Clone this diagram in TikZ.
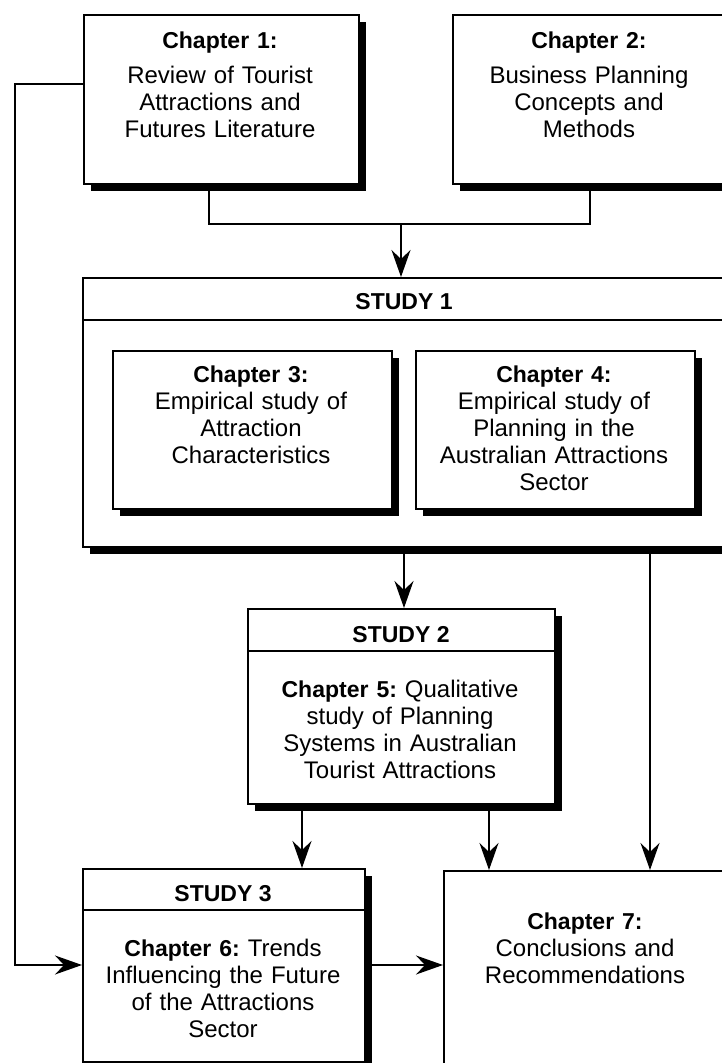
\documentclass[tikz,border=0pt]{standalone}
\usepackage{fontspec}
\setmainfont{Liberation Sans}
\usetikzlibrary{arrows.meta,shadows}
\frenchspacing
% bold chapter label, set a touch smaller than the body text
\newcommand\chaplabel[1]{{\fontsize{23}{27}\selectfont\bfseries #1}}
\begin{document}
\begin{tikzpicture}[x=1pt,y=-1pt,
  box/.style={draw, line width=2pt, fill=white, inner sep=0pt, anchor=north west},
  shadowed/.style={box, drop shadow={shadow xshift=7pt, shadow yshift=-7pt, opacity=1, fill=black}},
  txt/.style={inner sep=0pt, anchor=base, align=center, font=\fontsize{24}{27}\selectfont},
  head/.style={txt, font=\fontsize{23}{27}\selectfont\bfseries},
  link/.style={line width=1.6pt},
  arr/.style={link, -{Stealth[length=27pt, width=19pt, inset=9pt]}}
]
\useasboundingbox (0,0) rectangle (722,1063);

% boxes
\node[shadowed, minimum width=275pt, minimum height=169pt] (ch1) at (83,14) {};
\node[shadowed, minimum width=274pt, minimum height=169pt] (ch2) at (452,14) {};
\node[shadowed, minimum width=644pt, minimum height=269pt] (s1) at (82,277) {};
\draw[link] (82,320) -- (726,320);
\node[shadowed, minimum width=279pt, minimum height=158pt] (ch3) at (112,350) {};
\node[shadowed, minimum width=279pt, minimum height=158pt] (ch4) at (415,350) {};
\node[shadowed, minimum width=307pt, minimum height=195pt] (s2) at (247,608) {};
\draw[link] (247,651) -- (554,651);
\node[shadowed, minimum width=282pt, minimum height=193pt] (s3) at (82,868) {};
\draw[link] (82,910) -- (364,910);
\node[box, minimum width=284pt, minimum height=200pt] (ch7) at (443,870) {};

% texts
\node[txt, text width=270pt] (ch1t) at (220,48) {\chaplabel{Chapter 1:}\\[8pt]Review of Tourist\\Attractions and\\Futures Literature};
\node[txt, text width=270pt] (ch2t) at (589,48) {\chaplabel{Chapter 2:}\\[8pt]Business Planning\\Concepts and\\Methods};
\node[head] (s1t) at (404,309) {STUDY 1};
\node[txt, text width=270pt] (ch3t) at (251,382) {\chaplabel{Chapter 3:}\\Empirical study of\\Attraction\\Characteristics};
\node[txt, text width=270pt] (ch4t) at (554,382) {\chaplabel{Chapter 4:}\\Empirical study of\\Planning in the\\Australian Attractions\\Sector};
\node[head] (s2t) at (401,642) {STUDY 2};
\node[txt, text width=300pt] (ch5t) at (400,697) {\chaplabel{Chapter 5:} Qualitative\\study of Planning\\Systems in Australian\\Tourist Attractions};
\node[head] (s3t) at (223,901) {STUDY 3};
\node[txt, text width=275pt] (ch6t) at (223,956) {\chaplabel{Chapter 6:} Trends\\Influencing the Future\\of the Attractions\\Sector};
\node[txt, text width=275pt] (ch7t) at (585,929) {\chaplabel{Chapter 7:}\\Conclusions and\\Recommendations};

% connectors
\coordinate (m1) at (209,224);
\coordinate (m2) at (590,224);
\coordinate (m0) at (401,224);
\draw[link] (ch1.south -| m1) -- (m1) -- (m2) -- (ch2.south -| m2);
\draw[arr] (m0) -- (s1.north -| m0);

\coordinate (l1) at (15,84);
\coordinate (l2) at (15,965);
\draw[arr] (ch1.west |- l1) -- (l1) -- (l2) -- (s3.west |- l2);

\coordinate (a1) at (404,0);
\coordinate (a2) at (650,0);
\coordinate (a3) at (302,0);
\coordinate (a4) at (489,0);
\draw[arr] (s1.south -| a1) -- (s2.north -| a1);
\draw[arr] (s1.south -| a2) -- (ch7.north -| a2);
\draw[arr] (s2.south -| a3) -- (s3.north -| a3);
\draw[arr] (s2.south -| a4) -- (ch7.north -| a4);
\draw[arr] (s3.east |- l2) -- (ch7.west |- l2);
\end{tikzpicture}
\end{document}
